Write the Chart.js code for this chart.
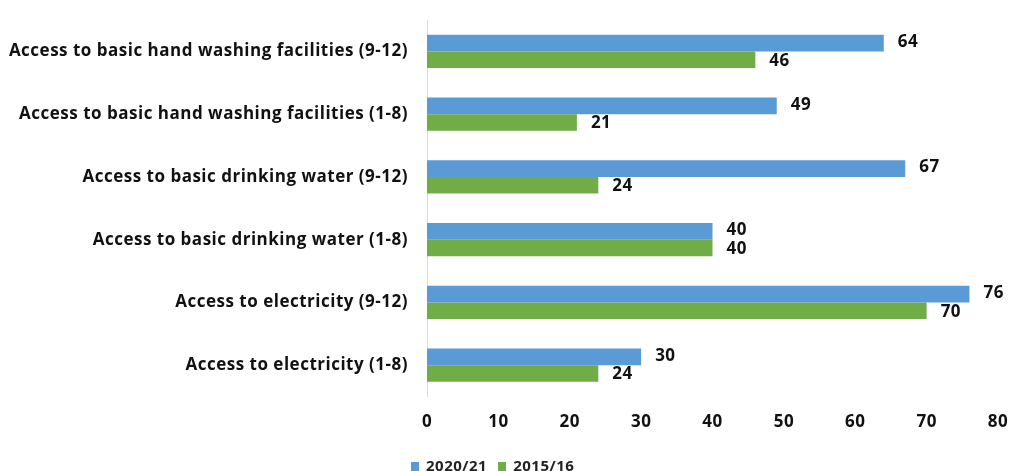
<!DOCTYPE html>
<html lang="en">
<head>
  <meta charset="UTF-8">
  <title>School facilities</title>
  <script src="https://cdn.jsdelivr.net/npm/chart.js"></script>
  <style>
    body { margin: 0; background: #fff; }
    .container { position: relative; width: 1013px; height: 471px; }
    #legend {
      position: absolute; left: 411px; top: 455px;
      font: bold 15px "Open Sans", sans-serif; color: #222; letter-spacing: 0.5px;
      display: flex; gap: 11px;
    }
    #legend span.box { display: inline-block; width: 8px; height: 9px; margin-right: 7px; }
  </style>
</head>
<body>
  <div class="container">
    <canvas id="myChart" width="1013" height="471"></canvas>
    <div id="legend"></div>
  </div>
  <script>
    const categories = [
      'Access to basic hand washing facilities (9-12)',
      'Access to basic hand washing facilities (1-8)',
      'Access to basic drinking water (9-12)',
      'Access to basic drinking water (1-8)',
      'Access to electricity (9-12)',
      'Access to electricity (1-8)'
    ]
    const values2020 = [64, 49, 67, 40, 76, 30]
    const values2015 = [46, 21, 24, 40, 70, 24]
    const xTicks = [0, 10, 20, 30, 40, 50, 60, 70, 80]

    const font = { family: '"Open Sans", sans-serif', weight: 'bold', size: 17 }

    // slightly looser text, like the original
    const spacing = {
      id: 'spacing',
      beforeLayout(chart) { chart.ctx.letterSpacing = '0.5px' }
    }

    // value labels next to bar ends
    const valueLabels = {
      id: 'valueLabels',
      afterDatasetsDraw(chart) {
        const ctx = chart.ctx
        ctx.save()
        ctx.font = 'bold 17px "Open Sans", sans-serif'
        ctx.fillStyle = '#111'
        ctx.textBaseline = 'middle'
        chart.data.datasets.forEach((ds, i) => {
          chart.getDatasetMeta(i).data.forEach((bar, j) => {
            ctx.fillText(ds.data[j], bar.x + 14, bar.y - (i === 0 ? 1 : -1))
          })
        })
        ctx.restore()
      }
    }

    const ctx = document.getElementById('myChart')
    const chart = new Chart(ctx, {
      type: 'bar',
      data: {
        labels: categories,
        datasets: [
          { label: '2020/21', data: values2020, backgroundColor: '#5B9BD5' },
          { label: '2015/16', data: values2015, backgroundColor: '#70AD47' }
        ]
      },
      options: {
        indexAxis: 'y',
        responsive: false,
        animation: false,
        categoryPercentage: 0.53,
        barPercentage: 1,
        layout: { padding: { top: 20, right: 15, bottom: 32, left: 0 } },
        plugins: { legend: { display: false }, tooltip: { enabled: false } },
        scales: {
          x: {
            min: 0, max: 80,
            afterBuildTicks: (s) => { s.ticks = xTicks.map(v => ({ value: v })) },
            afterFit: (s) => { s.paddingLeft = 0; s.paddingRight = 0 },
            grid: { display: false },
            border: { display: false },
            ticks: { font: font, color: '#111', padding: 7 }
          },
          y: {
            afterFit: (s) => { s.width = 427; s.paddingTop = 0; s.paddingBottom = 0 },
            grid: { display: false },
            border: { display: true, color: '#d9d9d9', width: 1 },
            ticks: { font: font, color: '#111', padding: 11 }
          }
        }
      },
      plugins: [spacing, valueLabels]
    })

    document.getElementById('legend').innerHTML = chart.data.datasets.map(ds =>
      '<span><span class="box" style="background:' + ds.backgroundColor + '"></span>' + ds.label + '</span>'
    ).join('')
  </script>
</body>
</html>
